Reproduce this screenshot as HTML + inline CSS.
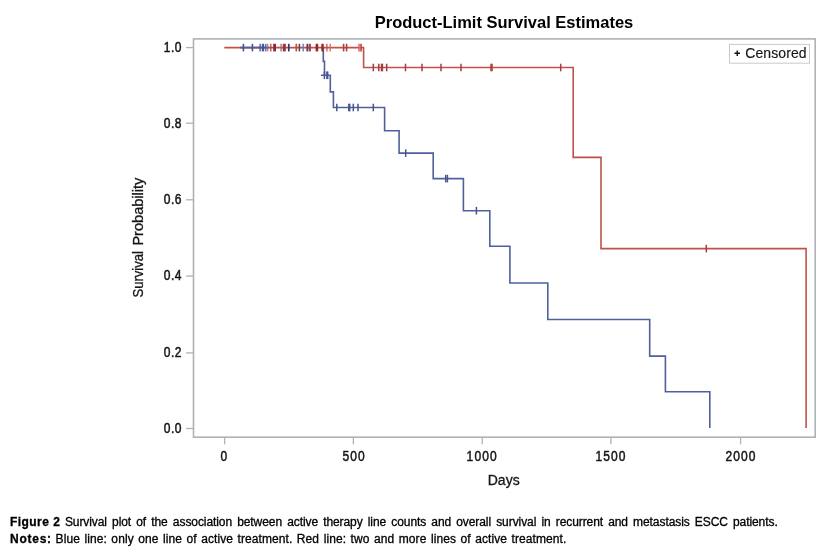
<!DOCTYPE html>
<html><head><meta charset="utf-8"><title>Figure 2</title>
<style>
html,body{margin:0;padding:0;background:#fff;}
body{width:836px;height:553px;position:relative;overflow:hidden;}
.t{font-family:"Liberation Sans",Arial,sans-serif;font-size:14px;fill:#151515;stroke:#151515;stroke-width:0.3px;}
.n{letter-spacing:1.3px;stroke-width:0.5px;}
.title{font-family:"Liberation Sans",Arial,sans-serif;font-size:16.5px;font-weight:bold;fill:#000;}
.cap{position:absolute;left:10px;font-family:"Liberation Sans",Arial,sans-serif;font-size:12px;color:#000;white-space:nowrap;-webkit-text-stroke:0.3px #000;}
.cap b{font-weight:bold;}
</style></head><body>
<svg width="836" height="500" viewBox="0 0 836 500" style="position:absolute;left:0;top:0">
<rect x="193.5" y="38.9" width="621.7" height="398.3" fill="none" stroke="#aeb2b6" stroke-width="1.6"/>
<path d="M186.1 428.5H193.5" stroke="#aeb2b6" stroke-width="1.3"/>
<text transform="translate(182.02 432.8) scale(0.86 1)" text-anchor="end" class="t n" style="letter-spacing:0.6px">0.0</text>
<path d="M186.1 352.9H193.5" stroke="#aeb2b6" stroke-width="1.3"/>
<text transform="translate(182.02 357.2) scale(0.86 1)" text-anchor="end" class="t n" style="letter-spacing:0.6px">0.2</text>
<path d="M186.1 276.1H193.5" stroke="#aeb2b6" stroke-width="1.3"/>
<text transform="translate(182.02 280.4) scale(0.86 1)" text-anchor="end" class="t n" style="letter-spacing:0.6px">0.4</text>
<path d="M186.1 199.8H193.5" stroke="#aeb2b6" stroke-width="1.3"/>
<text transform="translate(182.02 204.1) scale(0.86 1)" text-anchor="end" class="t n" style="letter-spacing:0.6px">0.6</text>
<path d="M186.1 123.2H193.5" stroke="#aeb2b6" stroke-width="1.3"/>
<text transform="translate(182.02 127.5) scale(0.86 1)" text-anchor="end" class="t n" style="letter-spacing:0.6px">0.8</text>
<path d="M186.1 47.6H193.5" stroke="#aeb2b6" stroke-width="1.3"/>
<text transform="translate(182.02 51.6) scale(0.86 1)" text-anchor="end" class="t n" style="letter-spacing:0.6px">1.0</text>
<path d="M224.6 437.2V444.3" stroke="#aeb2b6" stroke-width="1.3"/>
<text transform="translate(224.51 461) scale(0.86 1)" text-anchor="middle" class="t n">0</text>
<path d="M353.4 437.2V444.3" stroke="#aeb2b6" stroke-width="1.3"/>
<text transform="translate(354.16 461) scale(0.86 1)" text-anchor="middle" class="t n">500</text>
<path d="M482.2 437.2V444.3" stroke="#aeb2b6" stroke-width="1.3"/>
<text transform="translate(482.21 461) scale(0.86 1)" text-anchor="middle" class="t n">1000</text>
<path d="M610.9 437.2V444.3" stroke="#aeb2b6" stroke-width="1.3"/>
<text transform="translate(611.01 461) scale(0.86 1)" text-anchor="middle" class="t n">1500</text>
<path d="M740.6 437.2V444.3" stroke="#aeb2b6" stroke-width="1.3"/>
<text transform="translate(741.01 461) scale(0.86 1)" text-anchor="middle" class="t n">2000</text>
<path d="M224.3 47.6H363.6V67.5H573.2V157.4H601V248.6H806.1V428" fill="none" stroke="#c0524a" stroke-width="1.6"/>
<path d="M240 47.6H269" fill="none" stroke="#4f609d" stroke-width="1.8"/>
<path d="M323.3 47.6V61.4H324.5V75.3H330.3V91.9H333.4V107.5H384.6V130.7H399.1V153.1H433.2V178.6H463.4V210.7H489.8V246.3H509.9V283H547.8V319.5H649.7V356.1H665.4V391.8H709.8V428" fill="none" stroke="#4f609d" stroke-width="1.6"/>
<path d="M320.9 75.3H325" stroke="#4f609d" stroke-width="1.6"/>
<path d="M243.4 43.8V51.4" stroke="#46558e" stroke-opacity="1" stroke-width="1.6"/>
<path d="M252.4 43.8V51.4" stroke="#46558e" stroke-opacity="1" stroke-width="1.6"/>
<path d="M260.1 43.8V51.4" stroke="#46558e" stroke-opacity="0.8" stroke-width="1.6"/>
<path d="M262.9 43.8V51.4" stroke="#46558e" stroke-opacity="1" stroke-width="2.2"/>
<path d="M265.6 43.8V51.4" stroke="#46558e" stroke-opacity="0.8" stroke-width="1.6"/>
<path d="M267.5 43.8V51.4" stroke="#8a7088" stroke-opacity="0.8" stroke-width="1.6"/>
<path d="M270.8 43.8V51.4" stroke="#b03c3c" stroke-opacity="0.8" stroke-width="1.5"/>
<path d="M274.6 43.8V51.4" stroke="#8c2a2e" stroke-opacity="1" stroke-width="2.8"/>
<path d="M281.1 43.8V51.4" stroke="#8a7088" stroke-opacity="0.85" stroke-width="1.5"/>
<path d="M284.3 43.8V51.4" stroke="#a62c3e" stroke-opacity="1" stroke-width="3.0"/>
<path d="M288.8 43.8V51.4" stroke="#2c3a72" stroke-opacity="1" stroke-width="1.7"/>
<path d="M296.3 43.8V51.4" stroke="#b8503a" stroke-opacity="1" stroke-width="1.7"/>
<path d="M299.4 43.8V51.4" stroke="#5a3f6e" stroke-opacity="1" stroke-width="1.6"/>
<path d="M303.2 43.8V51.4" stroke="#6a7590" stroke-opacity="0.9" stroke-width="1.5"/>
<path d="M307.4 43.8V51.4" stroke="#5a3f6e" stroke-opacity="1" stroke-width="2.0"/>
<path d="M309.9 43.8V51.4" stroke="#b03c3c" stroke-opacity="1" stroke-width="2.0"/>
<path d="M316.9 43.8V51.4" stroke="#8c2a2e" stroke-opacity="1" stroke-width="2.6"/>
<path d="M322.5 43.8V51.4" stroke="#8c2a2e" stroke-opacity="1" stroke-width="2.4"/>
<path d="M326.9 43.8V51.4" stroke="#b8503a" stroke-opacity="0.8" stroke-width="1.5"/>
<path d="M330.2 43.8V51.4" stroke="#d86a6a" stroke-opacity="0.9" stroke-width="1.5"/>
<path d="M343.6 43.8V51.4" stroke="#b03c3c" stroke-opacity="1" stroke-width="1.6"/>
<path d="M346.6 43.8V51.4" stroke="#b03c3c" stroke-opacity="1" stroke-width="1.6"/>
<path d="M358.9 43.8V51.4" stroke="#d86a6a" stroke-opacity="0.9" stroke-width="1.5"/>
<path d="M360.2 43.8V51.4" stroke="#d86a6a" stroke-opacity="0.9" stroke-width="1.5"/>
<path d="M361.3 43.8V51.4" stroke="#b03c3c" stroke-opacity="0.8" stroke-width="1.4"/>
<path d="M324.4 71.5V79.1" stroke="#46558e" stroke-width="1.5"/>
<path d="M326.9 71.5V79.1" stroke="#46558e" stroke-width="1.5"/>
<path d="M327.7 71.5V79.1" stroke="#46558e" stroke-width="1.5"/>
<path d="M336.8 103.7V111.3" stroke="#46558e" stroke-width="1.5"/>
<path d="M348.8 103.7V111.3" stroke="#46558e" stroke-width="1.5"/>
<path d="M349.7 103.7V111.3" stroke="#46558e" stroke-width="1.5"/>
<path d="M353.3 103.7V111.3" stroke="#46558e" stroke-width="1.5"/>
<path d="M358.0 103.7V111.3" stroke="#46558e" stroke-width="1.5"/>
<path d="M373.3 103.7V111.3" stroke="#46558e" stroke-width="1.5"/>
<path d="M405.7 149.3V156.9" stroke="#46558e" stroke-width="1.5"/>
<path d="M445.7 174.8V182.4" stroke="#46558e" stroke-width="1.5"/>
<path d="M447.4 174.8V182.4" stroke="#46558e" stroke-width="1.5"/>
<path d="M476.4 206.9V214.5" stroke="#46558e" stroke-width="1.5"/>
<path d="M373.3 63.7V71.3" stroke="#a83c3c" stroke-width="1.5"/>
<path d="M378.8 63.7V71.3" stroke="#a83c3c" stroke-width="1.5"/>
<path d="M381.5 63.7V71.3" stroke="#a83c3c" stroke-width="1.5"/>
<path d="M382.4 63.7V71.3" stroke="#a83c3c" stroke-width="1.5"/>
<path d="M386.7 63.7V71.3" stroke="#a83c3c" stroke-width="1.5"/>
<path d="M405.5 63.7V71.3" stroke="#a83c3c" stroke-width="1.5"/>
<path d="M422.0 63.7V71.3" stroke="#a83c3c" stroke-width="1.5"/>
<path d="M441.0 63.7V71.3" stroke="#a83c3c" stroke-width="1.5"/>
<path d="M461.0 63.7V71.3" stroke="#a83c3c" stroke-width="1.5"/>
<path d="M491.0 63.7V71.3" stroke="#a83c3c" stroke-width="1.5"/>
<path d="M492.0 63.7V71.3" stroke="#a83c3c" stroke-width="1.5"/>
<path d="M560.7 63.7V71.3" stroke="#a83c3c" stroke-width="1.5"/>
<path d="M706.3 244.8V252.4" stroke="#a83c3c" stroke-width="1.5"/>
<rect x="729.5" y="44.4" width="80" height="18.8" fill="#fff" stroke="#c8cacc" stroke-width="1"/>
<path d="M734.5 53.2H740M737.25 50.5V55.9" stroke="#111" stroke-width="1.4"/>
<text x="745.2" y="58" class="t" style="font-size:14px;letter-spacing:0.1px;stroke-width:0.15px">Censored</text>
<text x="504" y="27.7" text-anchor="middle" class="title">Product-Limit Survival Estimates</text>
<text x="503.7" y="484.7" text-anchor="middle" class="t">Days</text>
<text transform="translate(142.9 297.6) rotate(-90)" class="t" style="font-size:15px" textLength="46.6" lengthAdjust="spacingAndGlyphs">Survival</text>
<text transform="translate(142.9 245.6) rotate(-90)" class="t" style="font-size:15px" textLength="68" lengthAdjust="spacingAndGlyphs">Probability</text>
</svg>
<div class="cap" id="c1" style="top:515.4px"><b id="b1" style="display:inline-block;width:54.9px;letter-spacing:0.45px">Figure 2</b><span style="letter-spacing:-0.08px;word-spacing:1.9px">Survival plot of the association between active therapy line counts and overall survival in recurrent and metastasis ESCC patients.</span></div>
<div class="cap" id="c2" style="top:532px"><b id="b2" style="display:inline-block;width:45.6px;letter-spacing:0.75px">Notes:</b><span style="letter-spacing:0.08px;word-spacing:1.1px">Blue line: only one line of active treatment. Red line: two and more lines of active treatment.</span></div>
</body></html>
